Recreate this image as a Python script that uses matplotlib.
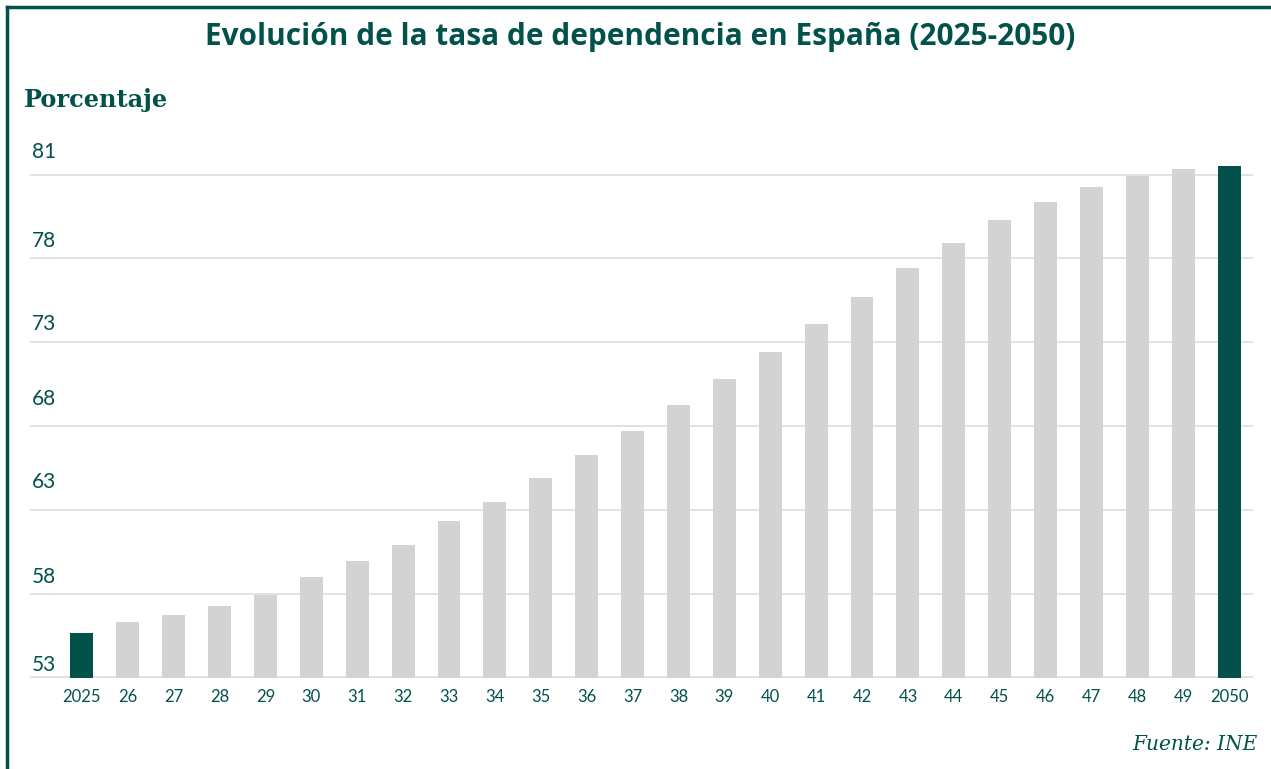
import numpy as np
import matplotlib
matplotlib.use("Agg")
import matplotlib.pyplot as plt
from matplotlib.lines import Line2D

# --- DATA ---
years = ["2025", "26", "27", "28", "29", "30", "31", "32", "33", "34", "35", "36", "37",
         "38", "39", "40", "41", "42", "43", "44", "45", "46", "47", "48", "49", "2050"]
tasa = [55.5, 56.1, 56.5, 57.0, 57.6, 58.6, 59.5, 60.4, 61.7, 62.8, 64.1, 65.4, 66.7,
        68.2, 69.6, 71.1, 72.7, 74.2, 75.8, 77.2, 78.5, 79.5, 80.3, 80.9, 81.3, 81.5]
ytick_labels = ["53", "58", "63", "68", "73", "78", "81"]
ytick_pos = [53.8, 58.7, 64.0, 68.6, 72.8, 77.4, 82.4]
# -------------

green = "#02524b"
grey = "#d3d3d3"

fig = plt.figure(figsize=(12.71, 7.69), dpi=100)
ax = fig.add_axes([30 / 1271, 91.5 / 769, 1223 / 1271, 537.5 / 769])

x = np.arange(len(years))
colors = [green if i in (0, len(years) - 1) else grey for i in range(len(years))]

# gridlines evenly spaced between 53 and 81
for g in np.linspace(53, 81, 7):
    ax.axhline(g, color="#e2e2e2", lw=1.4, zorder=0)

ax.bar(x, tasa, width=0.5, color=colors, zorder=2)

ax.set_xlim(-1.13, 25.52)
ax.set_ylim(53, 82.93)

ax.set_xticks(x)
ax.set_xticklabels(years, fontsize=12, color=green, family="Lato")
ax.tick_params(axis="x", length=0, pad=8)

ax.set_yticks(ytick_pos)
ax.set_yticklabels(ytick_labels, fontsize=15, color=green, family="Lato")
ax.tick_params(axis="y", length=0, pad=0, direction="in")
for lbl in ax.get_yticklabels():
    lbl.set_horizontalalignment("left")
    lbl.set_transform(lbl.get_transform() + matplotlib.transforms.ScaledTranslation(2 / 100, 0, fig.dpi_scale_trans))

for s in ax.spines.values():
    s.set_visible(False)

# titles and source
fig.text(640 / 1271, 1 - 37 / 769, "Evolución de la tasa de dependencia en España (2025-2050)",
         ha="center", va="center", fontsize=21.4, fontweight="bold", color=green, family="Open Sans")
fig.text(24 / 1271, 1 - 100 / 769, "Porcentaje", ha="left", va="center",
         fontsize=17.3, fontweight="bold", color=green, family="DejaVu Serif")
fig.text(1258 / 1271, 1 - 744 / 769, "Fuente: INE", ha="right", va="center",
         fontsize=14.5, style="italic", color=green, family="DejaVu Serif")

# frame around the figure (left and top edges)
fig.add_artist(Line2D([7 / 1271, 7 / 1271], [0, 1 - 7 / 769], color=green, lw=2.5,
                      transform=fig.transFigure))
fig.add_artist(Line2D([7 / 1271, 1], [1 - 7 / 769, 1 - 7 / 769], color=green, lw=2.5,
                      transform=fig.transFigure))

fig.savefig("out.png", dpi=100, facecolor="white")
